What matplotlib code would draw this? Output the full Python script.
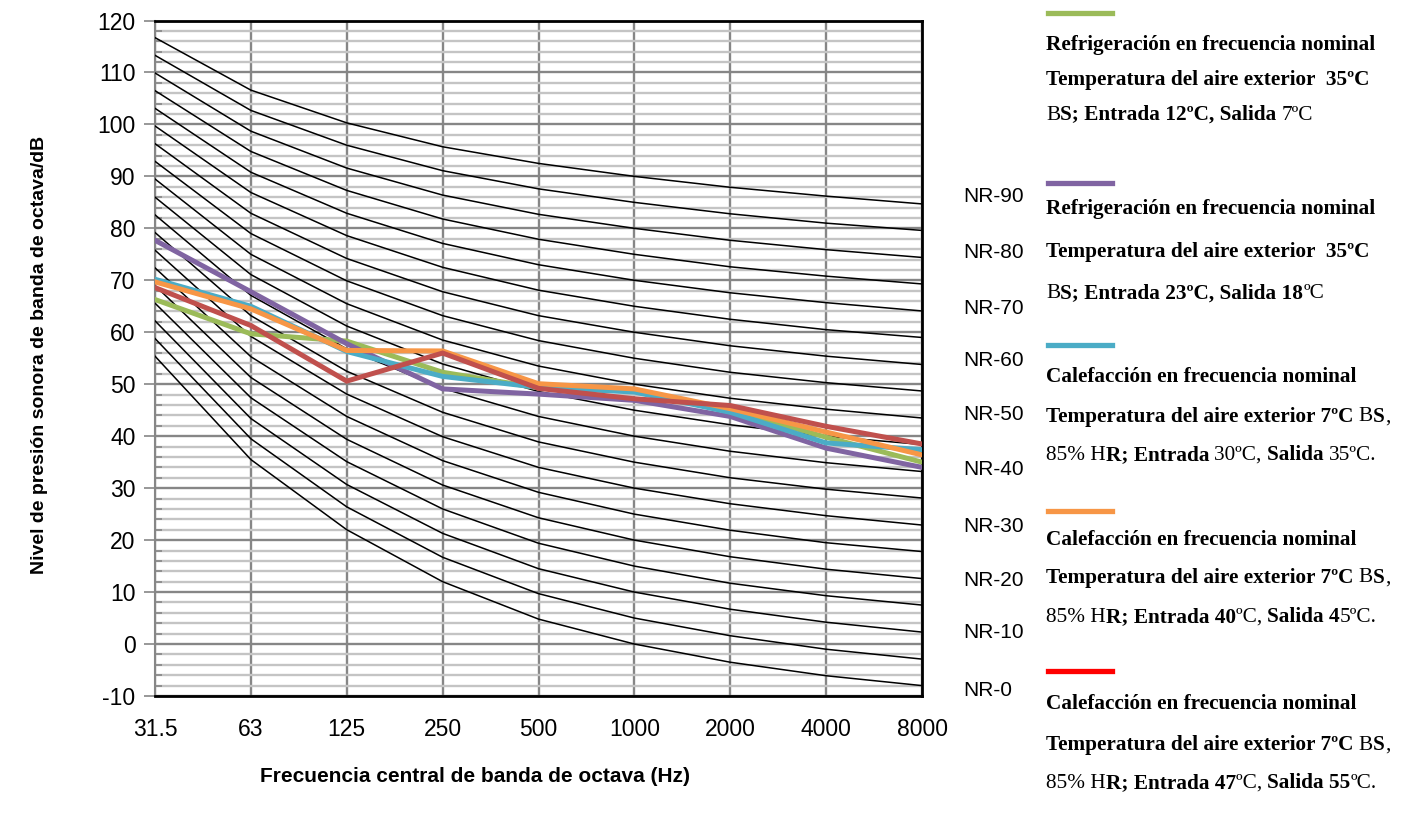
import numpy as np
import matplotlib
matplotlib.use('Agg')
import matplotlib.pyplot as plt
from matplotlib.ticker import MultipleLocator

W, H = 1411, 817

freqs = ['31.5', '63', '125', '250', '500', '1000', '2000', '4000', '8000']

# NR reference curves, NR-0 ... NR-90 in steps of 5 (dB per octave band)
nr_levels = [0, 5, 10, 15, 20, 25, 30, 35, 40, 45, 50, 55, 60, 65, 70, 75, 80, 85, 90]
nr_curves = [
    [55.4, 35.5, 22.0, 12.0, 4.8, 0.0, -3.5, -6.1, -8.0],
    [58.8, 39.5, 26.4, 16.7, 9.7, 5.0, 1.6, -1.0, -2.9],
    [62.2, 43.4, 30.7, 21.3, 14.5, 10.0, 6.7, 4.2, 2.3],
    [65.6, 47.4, 35.1, 26.0, 19.4, 15.0, 11.7, 9.3, 7.5],
    [69.0, 51.3, 39.4, 30.6, 24.3, 20.0, 16.8, 14.4, 12.6],
    [72.4, 55.3, 43.8, 35.3, 29.2, 25.0, 21.9, 19.5, 17.8],
    [75.8, 59.2, 48.1, 39.9, 34.0, 30.0, 27.0, 24.7, 22.9],
    [79.2, 63.2, 52.5, 44.6, 38.9, 35.0, 32.0, 29.8, 28.1],
    [82.6, 67.1, 56.8, 49.2, 43.8, 40.0, 37.1, 34.9, 33.2],
    [86.0, 71.1, 61.2, 53.9, 48.6, 45.0, 42.2, 40.0, 38.4],
    [89.5, 75.0, 65.5, 58.5, 53.5, 50.0, 47.3, 45.2, 43.5],
    [92.9, 79.0, 69.9, 63.2, 58.4, 55.0, 52.3, 50.3, 48.7],
    [96.3, 82.9, 74.2, 67.8, 63.2, 60.0, 57.4, 55.4, 53.8],
    [99.7, 86.9, 78.6, 72.5, 68.1, 65.0, 62.5, 60.5, 59.0],
    [103.1, 90.8, 82.9, 77.1, 73.0, 70.0, 67.6, 65.7, 64.1],
    [106.5, 94.8, 87.3, 81.8, 77.9, 75.0, 72.6, 70.8, 69.3],
    [109.9, 98.7, 91.6, 86.4, 82.7, 80.0, 77.7, 75.9, 74.4],
    [113.3, 102.7, 96.0, 91.1, 87.6, 85.0, 82.8, 81.0, 79.6],
    [116.7, 106.6, 100.3, 95.7, 92.5, 90.0, 87.9, 86.2, 84.7],
]

# measured sound pressure levels (dB)
refr_12_7 = [66.3, 59.7, 58.3, 52.3, 49.3, 48.8, 45.0, 39.8, 35.0]
refr_23_18 = [77.7, 67.8, 57.8, 49.1, 48.1, 46.9, 43.8, 37.7, 34.0]
calef_30_35 = [70.2, 65.0, 56.3, 51.5, 49.4, 48.5, 44.6, 38.7, 37.4]
calef_40_45 = [69.7, 64.5, 56.5, 56.4, 50.1, 49.1, 45.3, 40.8, 36.4]
calef_47_55 = [68.6, 61.3, 50.6, 56.0, 49.2, 47.2, 45.9, 41.9, 38.5]

series = [refr_12_7, refr_23_18, calef_30_35, calef_40_45, calef_47_55]
colors = ['#9BBB59', '#8064A2', '#4BACC6', '#F79646', '#C0504D']
legend_colors = ['#9BBB59', '#8064A2', '#4BACC6', '#F79646', '#FF0000']

nr_labels = ['NR-90', 'NR-80', 'NR-70', 'NR-60', 'NR-50', 'NR-40', 'NR-30', 'NR-20', 'NR-10', 'NR-0']

temp7 = [('Temperatura del aire exterior 7ºC ', True), ('B', False), ('S', True), (',', False)]
legend_texts = [
    [[('Refrigeración en frecuencia nominal', True)],
     [('Temperatura del aire exterior  35ºC', True)],
     [('B', False), ('S; Entrada 12ºC, Salida ', True), ('7ºC', False)]],
    [[('Refrigeración en frecuencia nominal', True)],
     [('Temperatura del aire exterior  35ºC', True)],
     [('B', False), ('S; Entrada 23ºC, Salida 18', True), ('ºC', False)]],
    [[('Calefacción en frecuencia nominal', True)],
     temp7,
     [('85% H', False), ('R; Entrada ', True), ('30ºC, ', False), ('Salida ', True), ('35ºC.', False)]],
    [[('Calefacción en frecuencia nominal', True)],
     temp7,
     [('85% H', False), ('R; Entrada 40', True), ('ºC, ', False), ('Salida 4', True), ('5ºC.', False)]],
    [[('Calefacción en frecuencia nominal', True)],
     temp7,
     [('85% H', False), ('R; Entrada 47', True), ('ºC, ', False), ('Salida 55', True), ('ºC.', False)]],
]

plt.rcParams['font.family'] = ['Liberation Sans', 'DejaVu Sans']
plt.rcParams['axes.unicode_minus'] = False

fig = plt.figure(figsize=(W / 100, H / 100), dpi=100)
ax = fig.add_axes([155 / W, 1 - 696 / H, (922 - 155) / W, (696 - 20.5) / H])

x = np.arange(len(freqs))
for curve in nr_curves:
    ax.plot(x, curve, color='black', lw=1.1, zorder=3)
for vals, c in zip(series, colors):
    ax.plot(x, vals, color=c, lw=3.6, zorder=4, solid_joinstyle='miter')

ax.set_xlim(0, 8)
ax.set_ylim(-10, 120)
ax.set_xticks(x)
ax.set_xticklabels(freqs, fontsize=16.5)
ax.set_yticks(range(-10, 121, 10))
ax.yaxis.set_minor_locator(MultipleLocator(2))
ax.tick_params(axis='y', labelsize=16.5, which='major', length=8, color='#868686', width=1.2, pad=6)
ax.tick_params(axis='y', which='minor', direction='in', length=5, color='#868686', width=1.2)
ax.tick_params(axis='x', length=0, pad=16)

ax.grid(True, which='minor', axis='y', color='#c4c4c4', lw=1.7, zorder=1)
ax.grid(True, which='major', axis='y', color='#868686', lw=1.7, zorder=1)
ax.grid(True, which='major', axis='x', color='#868686', lw=1.7, zorder=1)
ax.set_axisbelow(True)

for s in ['top', 'bottom', 'right']:
    ax.spines[s].set_color('black')
    ax.spines[s].set_linewidth(2)
ax.spines['left'].set_color('#868686')
ax.spines['left'].set_linewidth(1.5)

fig.text(40 / W, 1 - 355 / H, 'Nivel de presión sonora de banda de octava/dB', rotation=90,
         ha='center', va='center', fontsize=14, fontweight='bold')
fig.text(475 / W, 1 - 776 / H, 'Frecuencia central de banda de octava (Hz)',
         ha='center', va='center', fontsize=15, fontweight='bold')

# NR labels
nr_y = [196, 252, 308, 360, 415, 470, 526, 581, 633, 690]
for lab, yy in zip(nr_labels, nr_y):
    fig.text(963 / W, 1 - yy / H, lab, ha='left', va='center', fontsize=15)

# legend with mixed bold / regular text
renderer = fig.canvas.get_renderer()


def text_width(s, bold, size):
    kw = dict(fontsize=size, family='Liberation Serif', fontweight='bold' if bold else 'normal')
    t1 = fig.text(0, 0, '|' + s + '|', **kw)
    t2 = fig.text(0, 0, '||', **kw)
    w = t1.get_window_extent(renderer).width - t2.get_window_extent(renderer).width
    t1.remove()
    t2.remove()
    return w


def rich_line(x0, y0, parts, size=15.3):
    xx = x0
    for s, bold in parts:
        fig.text(xx / W, 1 - y0 / H, s, ha='left', va='center', fontsize=size,
                 family='Liberation Serif', fontweight='bold' if bold else 'normal')
        xx += text_width(s, bold, size)


line_y = [13, 183, 345, 511, 671]
text_y = [[45, 80, 115], [209, 252, 294], [377, 417, 455], [540, 578, 617], [704, 745, 783]]
for lc, ly, ty, lines in zip(legend_colors, line_y, text_y, legend_texts):
    fig.add_artist(plt.Line2D([1048 / W, 1112 / W], [1 - ly / H, 1 - ly / H], color=lc, lw=3.8))
    for yy, parts in zip(ty, lines):
        rich_line(1046, yy, parts)

fig.savefig('out.png', dpi=100)
